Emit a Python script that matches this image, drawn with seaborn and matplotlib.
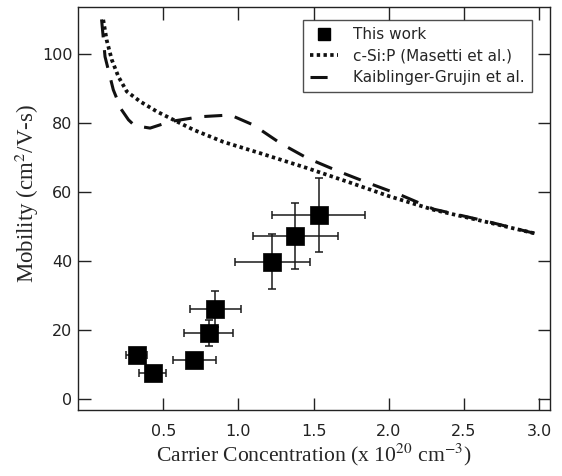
import numpy as np
import pandas as pd
import matplotlib
matplotlib.use("Agg")
import matplotlib.pyplot as plt
import seaborn as sns
from matplotlib.lines import Line2D

# ---- data ----
work_x = [0.325, 0.429, 0.707, 0.802, 0.847, 1.225, 1.38, 1.535]
work_y = [12.8, 7.4, 11.3, 19.0, 26.1, 39.8, 47.2, 53.3]
work_xerr = [0.07, 0.09, 0.145, 0.165, 0.17, 0.25, 0.28, 0.31]
work_yerr = [1.2, 1.2, 1.2, 3.8, 5.2, 8.0, 9.5, 10.7]

masetti_x = [0.101, 0.124, 0.158, 0.202, 0.258, 0.347, 0.458, 0.591, 0.702,
             0.90, 1.147, 1.458, 1.75, 2.0, 2.30, 2.65, 2.97]
masetti_y = [109.9, 104.0, 98.3, 93.4, 89.1, 86.2, 83.3, 80.4, 78.0,
             74.5, 71.2, 66.9, 62.6, 58.8, 54.8, 51.3, 48.0]

kaib_x = [0.09, 0.113, 0.168, 0.22, 0.269, 0.31, 0.413, 0.547, 0.747, 0.947,
          1.10, 1.28, 1.458, 1.67, 1.87, 2.08, 2.30, 2.65, 2.97]
kaib_y = [110.0, 99.2, 89.6, 84.0, 80.9, 79.2, 78.5, 80.4, 81.8, 82.3,
          79.4, 74.1, 69.8, 65.9, 62.5, 59.1, 55.0, 51.5, 48.0]

x_ticks = [0.5, 1.0, 1.5, 2.0, 2.5, 3.0]
y_ticks = [0, 20, 40, 60, 80, 100]

sns.set_style("ticks")
plt.rcParams['font.family'] = ['DejaVu Sans']
plt.rcParams['mathtext.fontset'] = 'stix'
plt.rcParams['xtick.direction'] = 'in'
plt.rcParams['ytick.direction'] = 'in'

fig = plt.figure(figsize=(5.62, 4.76), dpi=100)
ax = fig.add_axes([0.139, 0.1387, 0.8396, 0.8466])

df_m = pd.DataFrame({"x": masetti_x, "y": masetti_y})
df_k = pd.DataFrame({"x": kaib_x, "y": kaib_y})
df_w = pd.DataFrame({"x": work_x, "y": work_y})

sns.lineplot(data=df_k, x="x", y="y", ax=ax, color="#111111", lw=2.2,
             sort=False, estimator=None)
ax.lines[-1].set_dashes((5.9, 4.2))
sns.lineplot(data=df_m, x="x", y="y", ax=ax, color="#111111", lw=2.7,
             sort=False, estimator=None)
ax.lines[-1].set_dashes((0.9, 0.9))

ax.errorbar(work_x, work_y, xerr=work_xerr, yerr=work_yerr, fmt="none",
            ecolor="#1a1a1a", elinewidth=1.1, capsize=3.2, capthick=1.1, zorder=3)
sns.scatterplot(data=df_w, x="x", y="y", ax=ax, marker="s", s=150, color="black",
                edgecolor="black", linewidth=0.5, zorder=4)

ax.set_xlim(-0.066, 3.073)
ax.set_ylim(-3.2, 113.6)
ax.set_xticks(x_ticks)
ax.set_yticks(y_ticks)
ax.set_xticklabels([f"{t:.1f}" for t in x_ticks])
ax.tick_params(axis="both", which="major", direction="in", length=9, width=1.0,
               top=True, right=True, bottom=True, left=True,
               labelsize=11.5, color="#222222", labelcolor="#222222")
ax.tick_params(axis="x", pad=10)
ax.tick_params(axis="y", pad=4)
for s in ax.spines.values():
    s.set_visible(True)
    s.set_linewidth(1.0)
    s.set_color("#222222")

ax.set_xlabel(r"Carrier Concentration (x 10$^{20}$ cm$^{-3}$)",
              family="Liberation Serif", fontsize=15.6, labelpad=2)
ax.set_ylabel(r"Mobility (cm$^{2}$/V-s)", family="Liberation Serif",
              fontsize=16.5)
ax.yaxis.set_label_coords(-0.078, 0.537)

handles = [
    Line2D([], [], marker="s", color="black", ls="none", markersize=9),
    Line2D([], [], color="#111111", lw=2.7, dashes=(0.9, 0.9)),
    Line2D([], [], color="#111111", lw=2.2, dashes=(5.6, 20)),
]
labels = ["This work", "c-Si:P (Masetti et al.)", "Kaiblinger-Grujin et al."]
leg = ax.legend(handles, labels, loc="upper right", bbox_to_anchor=(0.962, 0.9677),
                fontsize=11, frameon=True, fancybox=False, handlelength=1.83,
                handletextpad=1.0, borderpad=0.48, labelspacing=0.41,
                borderaxespad=0.0)
leg.get_frame().set_edgecolor("#222222")
leg.get_frame().set_linewidth(1.0)

fig.savefig("out.png", dpi=100)
